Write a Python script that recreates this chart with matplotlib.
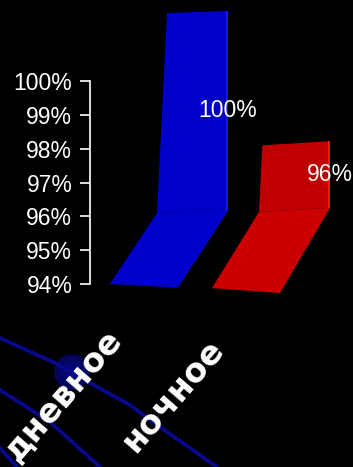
import numpy as np
import matplotlib.pyplot as plt
from matplotlib.patches import Polygon, Circle

categories = ['дневное', 'ночное']
values = [100, 96]
face_colors = ['#0000c8', '#c00000']
floor_colors = ['#0000cc', '#cc0000']
side_colors = ['#1414ff', '#ff1414']
yticks = [94, 95, 96, 97, 98, 99, 100]
base = 94

# background arcs (figure pixels, y downwards)
arc1 = [(0, 338), (55, 363), (90, 383), (130, 405), (150, 420), (217, 467)]
arc2 = [(0, 390), (50, 422), (100, 467)]
arc3 = [(0, 448), (17, 467)]

W, H = 353, 467
px_per_pct = 33.83
y_base_px = 284

fig = plt.figure(figsize=(W / 100, H / 100), dpi=100, facecolor='black')

bg = fig.add_axes([0, 0, 1, 1])
bg.set_xlim(0, W)
bg.set_ylim(H, 0)
bg.axis('off')
bg.set_facecolor('black')
for arc in (arc1, arc2, arc3):
    xs, ys = zip(*arc)
    bg.plot(xs, ys, color='#08088a', lw=2.8, solid_capstyle='round')
# soft dark globe
for r in np.linspace(18, 3, 10):
    k = 1 - r / 18
    bg.add_patch(Circle((72, 372), r, color=(0.02, 0.02, 0.33 + 0.2 * k), lw=0))

ax = fig.add_axes([0, 0, 1, 1], facecolor='none')
ax.set_xlim(0, W)
ax.set_ylim(base - (H - y_base_px) / px_per_pct, base + y_base_px / px_per_pct)


def px(yp):
    # pixel row -> percent on the value axis
    return base + (y_base_px - yp) / px_per_pct


depth_x = 47
front_w = 68
step = 102
x0 = 110

for i, (cat, v) in enumerate(zip(categories, values)):
    fl = x0 + i * step
    fr = fl + front_w
    bl = fl + depth_x
    br = fr + 50
    # slight perspective on the floor edges
    yfl = px(284 + (fl - x0) * 0.04)
    yfr = px(284 + (fr - x0) * 0.053)
    ybl = px(213 - (bl - 157) * 0.01)
    ybr = px(213 - (br - 157) * 0.03)
    h_px = (v - base) * px_per_pct * 0.985
    slant = h_px * 0.05
    ytl = ybl + h_px / px_per_pct
    ytr = ybr + h_px / px_per_pct
    ax.add_patch(Polygon([(fl, yfl), (fr, yfr), (br, ybr), (bl, ybl)],
                         closed=True, color=floor_colors[i], lw=0))
    ax.add_patch(Polygon([(bl, ybl), (br, ybr), (br, ytr), (bl + slant, ytl)],
                         closed=True, color=face_colors[i], lw=0))
    ax.add_patch(Polygon([(br - 2, ybr), (br, ybr), (br, ytr), (br - 2, ytr)],
                         closed=True, color=side_colors[i], lw=0))
    ax.text(br, (ybr + ytr) / 2, f'{v}%', color='white',
            fontsize=16.5, family='Liberation Sans', ha='center', va='center')
    ax.text(63 + i * 110, base - 3.3, cat, color='white', fontsize=24,
            fontweight='bold', family='DejaVu Sans', rotation=49,
            ha='center', va='center')

for s in ['top', 'right', 'bottom']:
    ax.spines[s].set_visible(False)
ax.spines['left'].set_position(('data', 90))
ax.spines['left'].set_bounds(94, 100)
ax.spines['left'].set_color('white')
ax.spines['left'].set_linewidth(1.2)
ax.set_yticks(yticks)
ax.set_yticklabels([f'{t}%' for t in yticks])
ax.tick_params(axis='y', colors='white', length=7.2, width=1.2, pad=5.5,
               labelsize=16.5, direction='out')
for lab in ax.get_yticklabels():
    lab.set_family('Liberation Sans')
ax.set_xticks([])

fig.savefig('out.png', dpi=100, facecolor='black')
